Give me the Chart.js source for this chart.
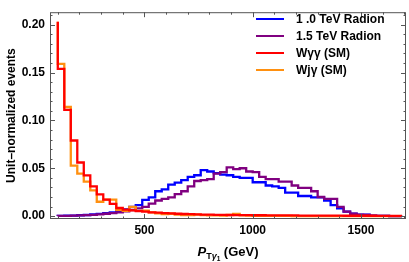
<!DOCTYPE html>
<html><head><meta charset="utf-8">
<script src="https://cdn.jsdelivr.net/npm/chart.js@4.4.1/dist/chart.umd.min.js"></script>
<style>html,body{margin:0;padding:0;background:#fff}canvas{display:block}</style>
</head><body>
<canvas id="c" width="409" height="262"></canvas>
<script>
// bin edges (GeV)
const binEdges = [100,130,160,190,220,250,280,310,340,370,400,430,460,490,520,550,580,610,640,670,700,730,760,790,820,850,880,910,940,970,1000,1030,1060,1090,1120,1150,1180,1210,1240,1270,1300,1330,1360,1390,1420,1450,1480,1510,1540,1570,1600,1630,1660,1690];
// series values, one per bin
const radion10 = [0.0002,0.0003,0.0004,0.0006,0.0009,0.0012,0.0017,0.0023,0.0031,0.0040,0.0052,0.0071,0.0097,0.0114,0.0170,0.0196,0.0260,0.0280,0.0330,0.0350,0.0377,0.0410,0.0427,0.0480,0.0466,0.0450,0.0433,0.0427,0.0410,0.0400,0.0400,0.0354,0.0354,0.0320,0.0310,0.0295,0.0245,0.0245,0.0210,0.0210,0.0196,0.0196,0.0163,0.0114,0.0080,0.0047,0.0025,0.0015,0.0015,0.0006,0.0003,0.0002,0.0001];
const radion15 = [0.0001,0.0002,0.0003,0.0005,0.0007,0.0010,0.0014,0.0019,0.0025,0.0032,0.0040,0.0050,0.0064,0.0080,0.0097,0.0130,0.0163,0.0180,0.0196,0.0230,0.0260,0.0310,0.0367,0.0377,0.0387,0.0443,0.0460,0.0510,0.0490,0.0500,0.0466,0.0460,0.0410,0.0387,0.0387,0.0360,0.0360,0.0320,0.0295,0.0295,0.0260,0.0200,0.0180,0.0180,0.0097,0.0047,0.0025,0.0015,0.0012,0.0006,0.0003,0.0002,0.0001];
const wgg = [0.203,0.1537,0.111,0.079,0.056,0.0425,0.031,0.0227,0.0172,0.0128,0.0085,0.0068,0.0060,0.0052,0.0046,0.0040,0.0036,0.0032,0.0028,0.0025,0.0022,0.0020,0.0018,0.0016,0.0015,0.0014,0.0013,0.0012,0.0011,0.0010,0.0010,0.0009,0.0009,0.0008,0.0008,0.0007,0.0007,0.0007,0.0006,0.0006,0.0006,0.0005,0.0005,0.0005,0.0005,0.0004,0.0004,0.0004,0.0004,0.0004,0.0003,0.0003,0.0003];
const wjg = [0.203,0.159,0.114,0.0527,0.0444,0.036,0.027,0.0150,0.0172,0.0172,0.0065,0.0055,0.0097,0.0055,0.0058,0.0040,0.0030,0.0020,0.0025,0.0015,0.0012,0.0010,0.0015,0.0010,0.0008,0.0008,0.0006,0.0012,0.0022,0.0008,0.0005,0.0004,0.0003,0.0003,0.0002,0.0002,0.0002,0.0001,0,0,0,0,0,0,0,0,0,0,0,0,0,0,0];
const seriesLabels = ['1 .0 TeV Radion','1.5 TeV Radion','W\u03b3\u03b3 (SM)','Wj\u03b3 (SM)'];
const seriesColors = ['#0000ff','#800080','#ff0000','#ff9010'];
const xTickValues = [500,1000,1500];
const yTickValues = [0,0.05,0.10,0.15,0.20];
const yAxisTitle = 'Unit\u2013normalized events';

const FONT = '"Liberation Sans", Arial, sans-serif';
Chart.defaults.font.family = FONT;
Chart.defaults.color = '#000';

function steps(vals){
  const pts = vals.map((v,i)=>({x:binEdges[i], y:v}));
  pts.push({x:binEdges[vals.length], y:vals[vals.length-1]});
  return pts;
}
const allSeries = [radion10, radion15, wgg, wjg];
const drawOrder = [3,2,0,1]; // lower = on top
const datasets = allSeries.map((s,i)=>({
  label: seriesLabels[i], data: steps(s), borderColor: seriesColors[i],
  borderWidth: 2.3, pointRadius: 0, stepped: 'after', fill: false, tension: 0,
  order: drawOrder[i]
}));

const framePlugin = {
  id: 'frame',
  afterDraw(chart){
    const {ctx, chartArea:a, scales:{x, y}} = chart;
    ctx.save();
    ctx.strokeStyle = '#555'; ctx.lineWidth = 1;
    ctx.strokeRect(a.left+0.5, a.top+0.5, a.right-a.left-1, a.bottom-a.top-1);
    ctx.beginPath();
    for (let v=100; v<=1700; v+=100){
      const px = Math.round(x.getPixelForValue(v))+0.5;
      const L = (v%500===0)?5:2.5;
      ctx.moveTo(px, a.bottom); ctx.lineTo(px, a.bottom-L);
      ctx.moveTo(px, a.top); ctx.lineTo(px, a.top+L);
    }
    for (let k=0; k<=21; k++){
      const v = k/100;
      const py = Math.round(y.getPixelForValue(v))+0.5;
      const L = (k%5===0)?5:2.5;
      ctx.moveTo(a.left, py); ctx.lineTo(a.left+L, py);
      ctx.moveTo(a.right, py); ctx.lineTo(a.right-L, py);
    }
    ctx.stroke();
    // legend
    const rows = [0,1,2,3];
    rows.forEach((i,r)=>{
      const ry = 19 + r*17;
      ctx.strokeStyle = seriesColors[i]; ctx.lineWidth = 2;
      ctx.beginPath(); ctx.moveTo(256, ry); ctx.lineTo(284, ry); ctx.stroke();
      ctx.fillStyle = '#000'; ctx.font = 'bold 12px '+FONT;
      ctx.textBaseline = 'middle'; ctx.textAlign = 'left';
      ctx.fillText(seriesLabels[i], 296, ry+0.5);
    });
    // x axis title P_{T gamma_1} (GeV)
    const parts = [
      {t:'P', f:'italic bold 13px '+FONT, dy:0},
      {t:'T', f:'bold 9px '+FONT, dy:3},
      {t:'\u03b3', f:'italic bold 9px '+FONT, dy:3},
      {t:'1', f:'bold 6.5px '+FONT, dy:5},
      {t:' (GeV)', f:'bold 13px '+FONT, dy:0}
    ];
    let w = 0;
    parts.forEach(p=>{ctx.font=p.f; p.w=ctx.measureText(p.t).width; w+=p.w;});
    let cx = (a.left+a.right)/2 - w/2;
    ctx.textBaseline = 'alphabetic'; ctx.textAlign='left'; ctx.fillStyle='#000';
    parts.forEach(p=>{ctx.font=p.f; ctx.fillText(p.t, cx, 256+p.dy); cx+=p.w;});
    ctx.restore();
  }
};

new Chart(document.getElementById('c'), {
  type: 'line',
  data: { datasets },
  options: {
    responsive: false, animation: false, devicePixelRatio: 1,
    layout: { padding: { top: 1, right: 3, left: 0, bottom: 0 } },
    plugins: { legend: { display: false }, tooltip: { enabled: false } },
    scales: {
      x: {
        type: 'linear', min: 64, max: 1708,
        grid: { display: false, drawTicks: false }, border: { display: false },
        ticks: { font: { size: 12, weight: 'bold' }, color: '#000', padding: 4, maxRotation: 0,
                 callback: v => String(v) },
        afterBuildTicks: s => { s.ticks = xTickValues.map(v=>({value:v})); },
        afterFit: s => { s.height = 43; }
      },
      y: {
        type: 'linear', min: -0.003, max: 0.213,
        grid: { display: false, drawTicks: false }, border: { display: false },
        ticks: { font: { size: 12, weight: 'bold' }, color: '#000', padding: 5,
                 callback: v => v.toFixed(2) },
        afterBuildTicks: s => { s.ticks = yTickValues.map(v=>({value:v})); },
        afterFit: s => { s.width = 50; },
        title: { display: true, text: yAxisTitle, font: { size: 12, weight: 'bold' }, color: '#000', padding: { top: 4, bottom: 0 } }
      }
    }
  },
  plugins: [framePlugin]
});
</script>
</body></html>
